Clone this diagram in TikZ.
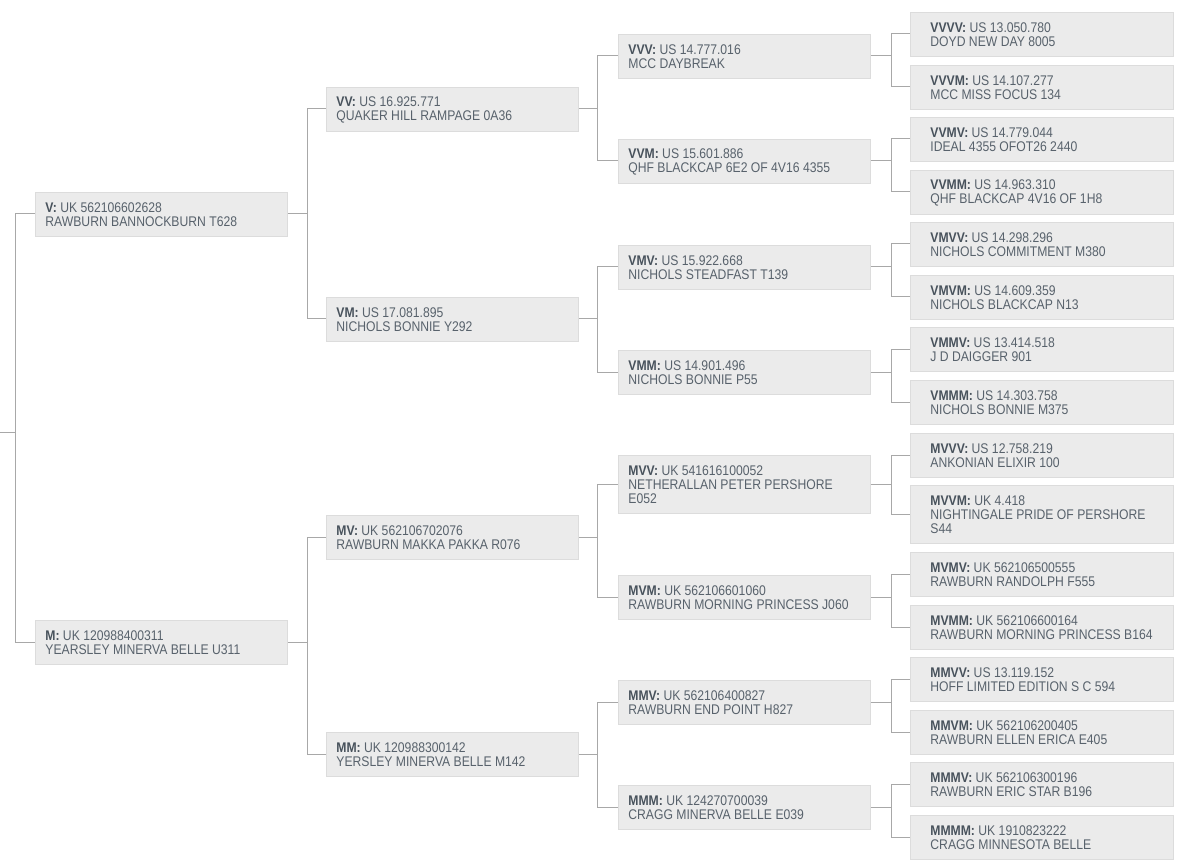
\documentclass[tikz,border=0pt]{standalone}
\usepackage{fontspec}
\setmainfont[FakeStretch=0.87]{Liberation Sans}
\usetikzlibrary{positioning}
\definecolor{boxfill}{HTML}{EBEBEB}
\definecolor{boxline}{HTML}{DCDCDC}
\definecolor{linkgray}{HTML}{A8A8A8}
\definecolor{idgray}{HTML}{58626C}
\definecolor{keygray}{HTML}{48525C}
\newcommand{\horse}[3]{\parbox{232pt}{\raggedright\rule{0pt}{12pt}\textbf{\color{keygray}#1:} #2\\#3}}
\newcommand{\farhorse}[3]{\hspace*{10pt}\parbox{233pt}{\raggedright\rule{0pt}{12pt}\textbf{\color{keygray}#1:} #2\\#3}}
\tikzset{horse/.style = {draw=boxline, fill=boxfill, text=idgray, anchor=west,
                         inner xsep=10pt, inner ysep=0pt, minimum height=44pt,
                         line width=0.8pt, font=\fontsize{14}{14}\selectfont}}
\tikzset{tall/.style = {minimum height=58pt}}
\tikzset{link/.style = {draw=linkgray, line width=1pt}}

\begin{document}
\begin{tikzpicture}[x=1pt, y=-1pt]
      \useasboundingbox (0, 0) rectangle (1193, 866);
      \coordinate (root) at (0, 432);

      % parents
      \node [horse] (v) at (35, 214) {\horse{V}{UK 562106602628}{RAWBURN BANNOCKBURN T628}};
      \node [horse] (m) at (35, 642) {\horse{M}{UK 120988400311}{YEARSLEY MINERVA BELLE U311}};

      % grandparents
      \node [horse] (vv) at (326, 109) {\horse{VV}{US 16.925.771}{QUAKER HILL RAMPAGE 0A36}};
      \node [horse] (vm) at (326, 319) {\horse{VM}{US 17.081.895}{NICHOLS BONNIE Y292}};
      \node [horse] (mv) at (326, 537) {\horse{MV}{UK 562106702076}{RAWBURN MAKKA PAKKA R076}};
      \node [horse] (mm) at (326, 754) {\horse{MM}{UK 120988300142}{YERSLEY MINERVA BELLE M142}};

      % great-grandparents
      \node [horse] (vvv) at (618, 56) {\horse{VVV}{US 14.777.016}{MCC DAYBREAK}};
      \node [horse] (vvm) at (618, 161) {\horse{VVM}{US 15.601.886}{QHF BLACKCAP 6E2 OF 4V16 4355}};
      \node [horse] (vmv) at (618, 267) {\horse{VMV}{US 15.922.668}{NICHOLS STEADFAST T139}};
      \node [horse] (vmm) at (618, 372) {\horse{VMM}{US 14.901.496}{NICHOLS BONNIE P55}};
      \node [horse, tall] (mvv) at (618, 484) {\horse{MVV}{UK 541616100052}{NETHERALLAN PETER PERSHORE\\E052}};
      \node [horse] (mvm) at (618, 597) {\horse{MVM}{UK 562106601060}{RAWBURN MORNING PRINCESS J060}};
      \node [horse] (mmv) at (618, 702) {\horse{MMV}{UK 562106400827}{RAWBURN END POINT H827}};
      \node [horse] (mmm) at (618, 807) {\horse{MMM}{UK 124270700039}{CRAGG MINERVA BELLE E039}};

      % great-great-grandparents
      \node [horse] (vvvv) at (910, 34) {\farhorse{VVVV}{US 13.050.780}{DOYD NEW DAY 8005}};
      \node [horse] (vvvm) at (910, 87) {\farhorse{VVVM}{US 14.107.277}{MCC MISS FOCUS 134}};
      \node [horse] (vvmv) at (910, 139) {\farhorse{VVMV}{US 14.779.044}{IDEAL 4355 OFOT26 2440}};
      \node [horse] (vvmm) at (910, 192) {\farhorse{VVMM}{US 14.963.310}{QHF BLACKCAP 4V16 OF 1H8}};
      \node [horse] (vmvv) at (910, 244) {\farhorse{VMVV}{US 14.298.296}{NICHOLS COMMITMENT M380}};
      \node [horse] (vmvm) at (910, 297) {\farhorse{VMVM}{US 14.609.359}{NICHOLS BLACKCAP N13}};
      \node [horse] (vmmv) at (910, 349) {\farhorse{VMMV}{US 13.414.518}{J D DAIGGER 901}};
      \node [horse] (vmmm) at (910, 402) {\farhorse{VMMM}{US 14.303.758}{NICHOLS BONNIE M375}};
      \node [horse] (mvvv) at (910, 455) {\farhorse{MVVV}{US 12.758.219}{ANKONIAN ELIXIR 100}};
      \node [horse, tall] (mvvm) at (910, 514) {\farhorse{MVVM}{UK 4.418}{NIGHTINGALE PRIDE OF PERSHORE\\S44}};
      \node [horse] (mvmv) at (910, 574) {\farhorse{MVMV}{UK 562106500555}{RAWBURN RANDOLPH F555}};
      \node [horse] (mvmm) at (910, 627) {\farhorse{MVMM}{UK 562106600164}{RAWBURN MORNING PRINCESS B164}};
      \node [horse] (mmvv) at (910, 679) {\farhorse{MMVV}{US 13.119.152}{HOFF LIMITED EDITION S C 594}};
      \node [horse] (mmvm) at (910, 732) {\farhorse{MMVM}{UK 562106200405}{RAWBURN ELLEN ERICA E405}};
      \node [horse] (mmmv) at (910, 784) {\farhorse{MMMV}{UK 562106300196}{RAWBURN ERIC STAR B196}};
      \node [horse] (mmmm) at (910, 837) {\farhorse{MMMM}{UK 1910823222}{CRAGG MINNESOTA BELLE}};

      % brackets
      \draw [link] (root) -- ++(15, 0) |- (v.west) (root) -- ++(15, 0) |- (m.west);
      \draw [link] (v.east) -- ++(20, 0) |- (vv.west) (v.east) -- ++(20, 0) |- (vm.west);
      \draw [link] (m.east) -- ++(20, 0) |- (mv.west) (m.east) -- ++(20, 0) |- (mm.west);
      \draw [link] (vv.east) -- ++(19, 0) |- (vvv.west) (vv.east) -- ++(19, 0) |- (vvm.west);
      \draw [link] (vm.east) -- ++(19, 0) |- (vmv.west) (vm.east) -- ++(19, 0) |- (vmm.west);
      \draw [link] (mv.east) -- ++(19, 0) |- (mvv.west) (mv.east) -- ++(19, 0) |- (mvm.west);
      \draw [link] (mm.east) -- ++(19, 0) |- (mmv.west) (mm.east) -- ++(19, 0) |- (mmm.west);
      \draw [link] (vvv.east) -- ++(21, 0) |- (vvvv.west) (vvv.east) -- ++(21, 0) |- (vvvm.west);
      \draw [link] (vvm.east) -- ++(21, 0) |- (vvmv.west) (vvm.east) -- ++(21, 0) |- (vvmm.west);
      \draw [link] (vmv.east) -- ++(21, 0) |- (vmvv.west) (vmv.east) -- ++(21, 0) |- (vmvm.west);
      \draw [link] (vmm.east) -- ++(21, 0) |- (vmmv.west) (vmm.east) -- ++(21, 0) |- (vmmm.west);
      \draw [link] (mvv.east) -- ++(21, 0) |- (mvvv.west) (mvv.east) -- ++(21, 0) |- (mvvm.west);
      \draw [link] (mvm.east) -- ++(21, 0) |- (mvmv.west) (mvm.east) -- ++(21, 0) |- (mvmm.west);
      \draw [link] (mmv.east) -- ++(21, 0) |- (mmvv.west) (mmv.east) -- ++(21, 0) |- (mmvm.west);
      \draw [link] (mmm.east) -- ++(21, 0) |- (mmmv.west) (mmm.east) -- ++(21, 0) |- (mmmm.west);
    \end{tikzpicture}
\end{document}
